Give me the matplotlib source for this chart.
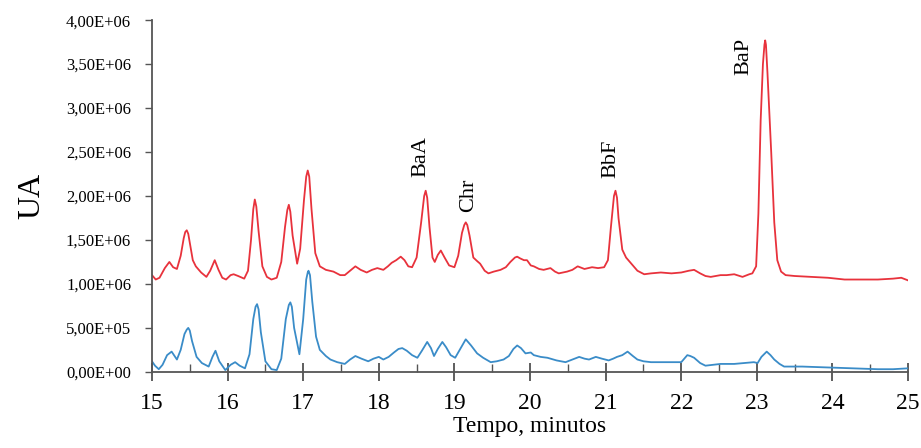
import matplotlib
matplotlib.use("Agg")
import matplotlib.pyplot as plt
from matplotlib.ticker import FuncFormatter, MultipleLocator

plt.rcParams['font.family'] = ['Liberation Serif', 'DejaVu Serif']

# retention time (min) and signal (x 1e6 UA)
t_red = [15.00, 15.05, 15.10, 15.17, 15.23, 15.28, 15.33, 15.38, 15.42, 15.44,
         15.46, 15.48, 15.50, 15.54, 15.58, 15.65, 15.72, 15.77, 15.83, 15.88,
         15.93, 15.98, 16.04, 16.08, 16.14, 16.22, 16.27, 16.31, 16.34, 16.36,
         16.38, 16.41, 16.46, 16.52, 16.58, 16.65, 16.71, 16.76, 16.79, 16.81,
         16.83, 16.86, 16.92, 16.96, 17.01, 17.04, 17.06, 17.08, 17.11, 17.16,
         17.22, 17.30, 17.40, 17.49, 17.55, 17.62, 17.69, 17.76, 17.84, 17.91,
         17.98, 18.06, 18.12, 18.17, 18.23, 18.29, 18.34, 18.39, 18.44, 18.50,
         18.56, 18.60, 18.62, 18.64, 18.67, 18.71, 18.74, 18.78, 18.82, 18.87,
         18.93, 19.00, 19.05, 19.10, 19.13, 19.15, 19.17, 19.20, 19.25, 19.30,
         19.34, 19.40, 19.45, 19.52, 19.61, 19.68, 19.74, 19.80, 19.83, 19.87,
         19.92, 19.96, 20.01, 20.05, 20.12, 20.18, 20.27, 20.33, 20.38, 20.49,
         20.56, 20.63, 20.72, 20.82, 20.90, 20.98, 21.03, 21.07, 21.11, 21.13,
         21.15, 21.17, 21.22, 21.27, 21.33, 21.42, 21.51, 21.60, 21.73, 21.87,
         22.00, 22.10, 22.17, 22.25, 22.32, 22.39, 22.52, 22.60, 22.70, 22.81,
         22.90, 22.94, 22.99, 23.02, 23.05, 23.08, 23.10, 23.11, 23.12, 23.14,
         23.17, 23.19, 23.23, 23.27, 23.32, 23.38, 23.50, 23.72, 23.94, 24.16,
         24.40, 24.60, 24.80, 24.91, 25.00]
v_red = [1.10, 1.05, 1.07, 1.18, 1.25, 1.19, 1.17, 1.32, 1.52, 1.59,
         1.61, 1.57, 1.47, 1.27, 1.20, 1.13, 1.08, 1.15, 1.27, 1.16,
         1.07, 1.05, 1.10, 1.11, 1.09, 1.06, 1.15, 1.50, 1.85, 1.96,
         1.88, 1.60, 1.20, 1.08, 1.05, 1.07, 1.25, 1.65, 1.84, 1.90,
         1.82, 1.55, 1.23, 1.40, 1.95, 2.22, 2.29, 2.22, 1.85, 1.35,
         1.20, 1.16, 1.14, 1.10, 1.10, 1.15, 1.20, 1.16, 1.13, 1.16,
         1.18, 1.16, 1.20, 1.24, 1.27, 1.31, 1.27, 1.20, 1.19, 1.30,
         1.70, 2.00, 2.06, 1.98, 1.65, 1.30, 1.25, 1.33, 1.38, 1.30,
         1.21, 1.19, 1.32, 1.58, 1.67, 1.70, 1.67, 1.55, 1.30, 1.26,
         1.23, 1.15, 1.12, 1.14, 1.16, 1.19, 1.25, 1.30, 1.31, 1.29,
         1.27, 1.27, 1.21, 1.20, 1.17, 1.16, 1.18, 1.14, 1.12, 1.14,
         1.16, 1.20, 1.17, 1.19, 1.18, 1.19, 1.27, 1.65, 2.00, 2.06,
         1.98, 1.75, 1.39, 1.30, 1.24, 1.15, 1.11, 1.12, 1.13, 1.12,
         1.13, 1.15, 1.16, 1.12, 1.09, 1.08, 1.10, 1.10, 1.11, 1.08,
         1.11, 1.12, 1.20, 1.80, 2.86, 3.50, 3.72, 3.77, 3.72, 3.40,
         2.85, 2.49, 1.70, 1.27, 1.14, 1.10, 1.09, 1.08, 1.07, 1.05,
         1.05, 1.05, 1.06, 1.07, 1.04]

t_blue = [15.00, 15.04, 15.09, 15.14, 15.20, 15.26, 15.33, 15.38, 15.43, 15.46,
          15.48, 15.50, 15.53, 15.59, 15.66, 15.75, 15.80, 15.84, 15.89, 15.97,
          16.04, 16.10, 16.16, 16.23, 16.29, 16.34, 16.37, 16.39, 16.41, 16.44,
          16.50, 16.58, 16.65, 16.71, 16.77, 16.81, 16.83, 16.85, 16.88, 16.95,
          17.00, 17.04, 17.06, 17.07, 17.09, 17.12, 17.17, 17.22, 17.30, 17.36,
          17.45, 17.55, 17.62, 17.69, 17.77, 17.86, 17.93, 18.00, 18.06, 18.13,
          18.20, 18.26, 18.31, 18.37, 18.44, 18.51, 18.57, 18.64, 18.69, 18.73,
          18.78, 18.84, 18.89, 18.95, 19.01, 19.07, 19.15, 19.22, 19.30, 19.38,
          19.48, 19.56, 19.65, 19.72, 19.78, 19.83, 19.88, 19.94, 20.01, 20.05,
          20.14, 20.23, 20.35, 20.47, 20.56, 20.65, 20.72, 20.78, 20.87, 20.95,
          21.04, 21.10, 21.15, 21.22, 21.29, 21.36, 21.42, 21.50, 21.60, 21.80,
          22.00, 22.05, 22.08, 22.12, 22.17, 22.25, 22.32, 22.52, 22.70, 22.83,
          22.96, 23.01, 23.06, 23.13, 23.18, 23.23, 23.30, 23.36, 23.60, 23.94,
          24.30, 24.60, 24.80, 25.00]
v_blue = [0.12, 0.07, 0.03, 0.08, 0.19, 0.23, 0.14, 0.25, 0.43, 0.48,
          0.50, 0.47, 0.35, 0.17, 0.10, 0.06, 0.17, 0.24, 0.12, 0.02,
          0.08, 0.11, 0.07, 0.04, 0.20, 0.60, 0.74, 0.77, 0.71, 0.45,
          0.12, 0.03, 0.02, 0.15, 0.60, 0.76, 0.79, 0.74, 0.50, 0.20,
          0.60, 1.05, 1.13, 1.15, 1.10, 0.80, 0.40, 0.25, 0.18, 0.14,
          0.11, 0.09, 0.14, 0.18, 0.15, 0.12, 0.15, 0.17, 0.14, 0.17,
          0.22, 0.26, 0.27, 0.24, 0.19, 0.16, 0.24, 0.34, 0.27, 0.18,
          0.26, 0.34, 0.28, 0.19, 0.16, 0.25, 0.37, 0.30, 0.21, 0.16,
          0.11, 0.12, 0.14, 0.18, 0.26, 0.30, 0.27, 0.21, 0.22, 0.19,
          0.17, 0.16, 0.13, 0.11, 0.14, 0.17, 0.15, 0.14, 0.17, 0.15,
          0.13, 0.15, 0.17, 0.19, 0.23, 0.18, 0.14, 0.12, 0.11, 0.11,
          0.11, 0.16, 0.19, 0.18, 0.16, 0.10, 0.07, 0.09, 0.09, 0.10,
          0.11, 0.10, 0.17, 0.23, 0.19, 0.14, 0.09, 0.06, 0.06, 0.05,
          0.04, 0.03, 0.03, 0.04]

peak_names = ['BaA', 'Chr', 'BbF', 'BaP']
peak_t = [18.56, 19.19, 21.07, 22.83]
peak_y = [2.22, 1.82, 2.20, 3.38]

fig = plt.figure(figsize=(9.21, 4.48), dpi=100)
ax = fig.add_axes([0.165, 0.170, 0.821, 0.785])

ax.plot(t_red, [v * 1e6 for v in v_red], color='#e8323c', lw=1.3,
        solid_joinstyle='round')
ax.plot(t_blue, [v * 1e6 for v in v_blue], color='#3a8cc8', lw=1.3,
        solid_joinstyle='round')

for name, x, y in zip(peak_names, peak_t, peak_y):
    ax.text(x, y * 1e6, name, rotation=90, ha='center', va='bottom', fontsize=16)

ax.set_xlim(15, 25)
ax.set_ylim(0, 4e6)
ax.xaxis.set_major_locator(MultipleLocator(1))
ax.xaxis.set_minor_locator(MultipleLocator(0.5))
ax.yaxis.set_major_locator(MultipleLocator(5e5))
ax.yaxis.set_major_formatter(FuncFormatter(lambda v, p: f"{v:.2E}".replace('.', ',')))

for s in ['top', 'right']:
    ax.spines[s].set_visible(False)
for s in ['left', 'bottom']:
    ax.spines[s].set_color('#555555')
    ax.spines[s].set_linewidth(1.3)

ax.tick_params(axis='x', which='major', direction='inout', length=13, width=1.1,
               color='#333333', labelsize=17, pad=9)
ax.tick_params(axis='x', which='minor', direction='in', length=6, width=1.0, color='#555555')
ax.tick_params(axis='y', which='major', direction='out', length=5, width=1.0,
               color='#555555', labelsize=12, pad=10)

ax.set_xlabel('Tempo, minutos', fontsize=17, labelpad=1)
ax.set_ylabel('UA', fontsize=23, labelpad=14)

fig.savefig('out.png', dpi=100)
